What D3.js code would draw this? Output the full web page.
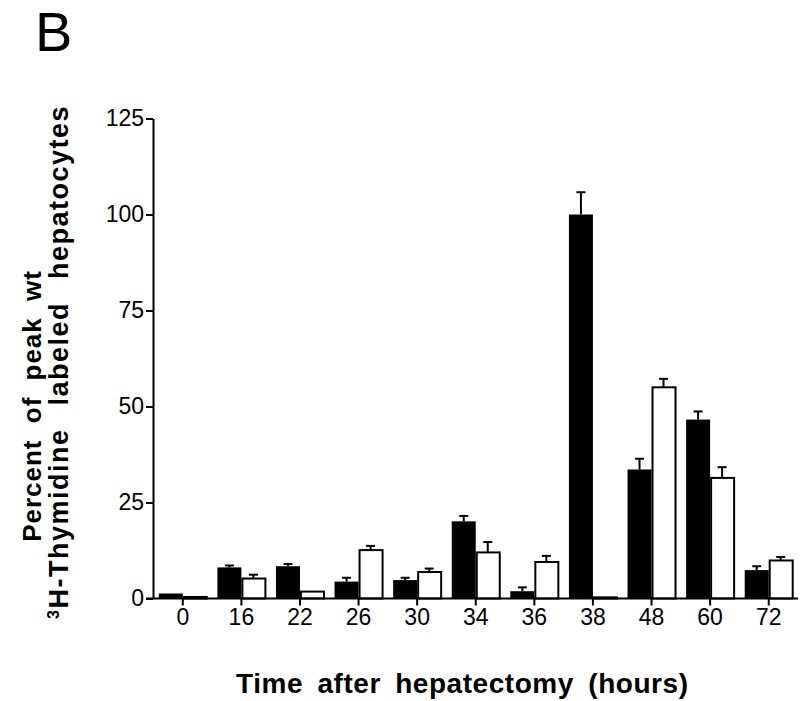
<!DOCTYPE html>
<html>
<head>
<meta charset="utf-8">
<script src="https://cdn.jsdelivr.net/npm/d3@7"></script>
<style>
  html, body { margin: 0; padding: 0; background: #fff; }
  svg { display: block; }
  text { font-family: "Liberation Sans", Arial, Helvetica, sans-serif; fill: #000; }
</style>
</head>
<body>
<svg id="chart" width="800" height="701"></svg>
<script>
// Time after hepatectomy (hours)
const categories = ["0", "16", "22", "26", "30", "34", "36", "38", "48", "60", "72"];
// Black bars (wt) – percent of peak wt
const wtValues  = [1.3, 8.1, 8.4, 4.4, 4.8, 20.1, 1.9, 100, 33.6, 46.6, 7.4];
const wtErrors  = [0, 0.5, 0.6, 1.0, 0.6, 1.4, 1.0, 5.8, 2.8, 2.1, 1.0];
// White bars – percent of peak wt
const mutValues = [0.4, 5.2, 1.8, 12.6, 6.9, 12.0, 9.5, 0.3, 55.0, 31.4, 9.9];
const mutErrors = [0, 1.0, 0, 1.1, 0.9, 2.7, 1.6, 0, 2.2, 2.8, 0.9];
const yTicks = [0, 25, 50, 75, 100, 125];

(function () {
const svg = d3.select("#chart");
const plotLeft = 153, plotRight = 798, plotTop = 118.5, plotBottom = 598.5;

const x = d3.scaleBand().domain(categories).range([plotLeft + 0.5, plotRight]).paddingInner(0).paddingOuter(0);
const y = d3.scaleLinear().domain([0, 125]).range([plotBottom, plotTop]);
const barW = 24;

const series = [
  { key: "wt", values: wtValues, errors: wtErrors, fill: "#000", offset: -barW },
  { key: "mut", values: mutValues, errors: mutErrors, fill: "#fff", offset: 0 }
];

const rows = s => categories.map((c, i) => ({ c, v: s.values[i], e: s.errors[i] }));
const g = svg.append("g");

series.forEach(s => {
  const grp = g.append("g");
  const data = rows(s);
  const cx = d => x(d.c) + x.bandwidth() / 2 + s.offset + barW / 2;
  const withErr = data.filter(d => d.e > 0);
  grp.selectAll("line.err").data(withErr).join("line")
    .attr("class", "err")
    .attr("x1", cx).attr("x2", cx)
    .attr("y1", d => y(d.v)).attr("y2", d => y(d.v + d.e))
    .attr("stroke", "#000").attr("stroke-width", 2);
  grp.selectAll("line.cap").data(withErr).join("line")
    .attr("class", "cap")
    .attr("x1", d => cx(d) - 4.5).attr("x2", d => cx(d) + 4.5)
    .attr("y1", d => y(d.v + d.e)).attr("y2", d => y(d.v + d.e))
    .attr("stroke", "#000").attr("stroke-width", 2);
  grp.selectAll("rect").data(data).join("rect")
    .attr("x", d => x(d.c) + x.bandwidth() / 2 + s.offset + (s.fill === "#fff" ? 1 : 0))
    .attr("y", d => y(d.v))
    .attr("width", s.fill === "#fff" ? barW - 1 : barW)
    .attr("height", d => plotBottom - y(d.v))
    .attr("fill", s.fill)
    .attr("stroke", "#000")
    .attr("stroke-width", s.fill === "#fff" ? 2 : 0);
});

// Y axis
const yAxis = d3.axisLeft(y).tickValues(yTicks).tickSize(7).tickPadding(2).tickSizeOuter(0);
const ya = svg.append("g").attr("transform", `translate(${plotLeft},0)`).call(yAxis);
ya.select(".domain").attr("stroke", "#000").attr("stroke-width", 2);
ya.selectAll(".tick line").attr("stroke", "#000").attr("stroke-width", 2);
ya.selectAll(".tick text").attr("font-size", 23).attr("font-family", "Liberation Sans, Arial, sans-serif").attr("fill", "#000");

// X axis
const xAxis = d3.axisBottom(x).tickSize(7).tickPadding(3).tickSizeOuter(0);
const xa = svg.append("g").attr("transform", `translate(0,${plotBottom})`).call(xAxis);
xa.select(".domain").attr("stroke", "#000").attr("stroke-width", 2).attr("d", `M${plotLeft - 7},0H${plotRight}`);
xa.selectAll(".tick line").attr("stroke", "#000").attr("stroke-width", 2);
xa.selectAll(".tick text").attr("font-size", 23).attr("font-family", "Liberation Sans, Arial, sans-serif").attr("fill", "#000");

// Panel letter
svg.append("text").attr("x", 35).attr("y", 51).attr("font-size", 56).text("B");

// X title
svg.append("text").attr("x", 236).attr("y", 693)
  .attr("font-size", 28).attr("font-weight", "bold")
  .attr("word-spacing", 6)
  .attr("textLength", 452).attr("lengthAdjust", "spacing")
  .text("Time after hepatectomy (hours)");

// Y title (two lines)
svg.append("text").attr("transform", "translate(41,406) rotate(-90)")
  .attr("text-anchor", "middle").attr("font-size", 26).attr("font-weight", "bold")
  .attr("letter-spacing", 1).attr("word-spacing", 8)
  .text("Percent of peak wt");
const t2 = svg.append("text").attr("transform", "translate(68,362) rotate(-90)")
  .attr("text-anchor", "middle").attr("font-size", 27).attr("font-weight", "bold")
  .attr("letter-spacing", 1.5).attr("word-spacing", 14);
t2.append("tspan").attr("font-size", 16).attr("dy", -9).text("3");
t2.append("tspan").attr("dy", 9).text("H-Thymidine labeled hepatocytes");
})();
</script>
</body>
</html>
